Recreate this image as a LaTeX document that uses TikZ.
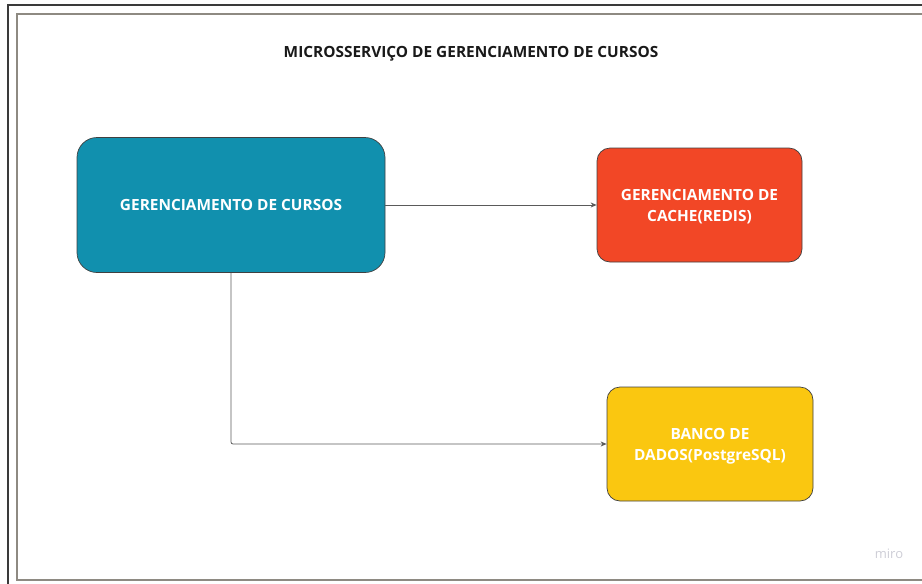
\documentclass[tikz,border=0pt]{standalone}
\usepackage{fontspec}
\setmainfont{Open Sans}
\usetikzlibrary{arrows.meta}

\definecolor{cursosblue}{HTML}{1190AE}
\definecolor{cachered}{HTML}{F24726}
\definecolor{bancoyellow}{HTML}{FAC710}
\definecolor{framedark}{HTML}{3A3A3A}
\definecolor{framegray}{HTML}{8E8A82}
\definecolor{linegray}{HTML}{5A5A5A}
\definecolor{mirogray}{HTML}{CDCDD6}

\begin{document}
\begin{tikzpicture}[x=1pt,y=-1pt]
\useasboundingbox (0,0) rectangle (922,584);

% frames
\draw[line width=1.5pt,framedark] (922,5) -- (8,5) -- (8,584);
\draw[line width=1.2pt,framegray] (922,14) -- (17,14) -- (17,580) -- (922,580);

\node[font=\bfseries\fontsize{15.4}{18}\selectfont,text=black!90] (title) at (471,54) {MICROSSERVIÇO DE GERENCIAMENTO DE CURSOS};

\begin{scope}[every node/.style={draw=black!75,line width=0.7pt,text=white,align=center,
              text depth=0pt,font=\bfseries\fontsize{15.4}{21}\selectfont}]
    \node[fill=cursosblue,rounded corners=20pt,minimum width=308pt,minimum height=135pt] (cursos) at (231,205) {GERENCIAMENTO DE CURSOS};
    \node[fill=cachered,rounded corners=13pt,minimum width=205pt,minimum height=114pt] (cache) at (699.5,205) {GERENCIAMENTO DE\\CACHE(REDIS)};
    \node[fill=bancoyellow,rounded corners=13pt,minimum width=206pt,minimum height=114pt] (banco) at (710,444) {BANCO DE\\DADOS(PostgreSQL)};
\end{scope}

\begin{scope}[>={Stealth[length=6pt,width=5pt]},
              every path/.style={draw=linegray,line width=0.8pt}]
    \path [->] (cursos) -- (cache);
    \path [->,rounded corners=2pt] (cursos) |- (banco);
\end{scope}

\node[font=\fontsize{13}{15}\selectfont,text=mirogray] (miro) at (889,554) {miro};
\end{tikzpicture}
\end{document}
